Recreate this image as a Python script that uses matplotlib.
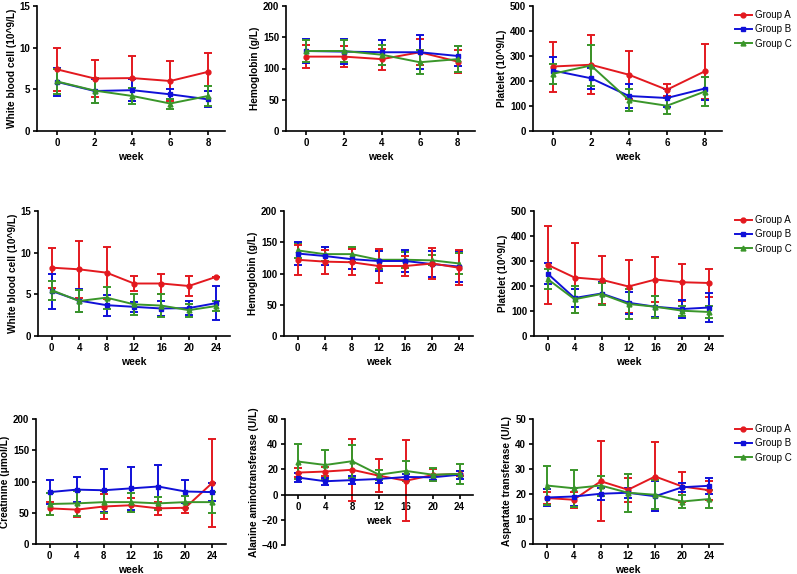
import numpy as np
import matplotlib
matplotlib.use('Agg')
import matplotlib.pyplot as plt
from matplotlib.lines import Line2D

plt.rcParams['font.family'] = ['Liberation Sans', 'DejaVu Sans']
plt.rcParams['font.weight'] = 'bold'

# weeks
weeks8 = [0, 2, 4, 6, 8]
weeks24 = [0, 4, 8, 12, 16, 20, 24]
groups = ['Group A', 'Group B', 'Group C']

# row 1 : 8 weeks
wbc8_a = [7.4, 6.3, 6.35, 6.0, 7.1]
wbc8_a_sd = [2.6, 2.2, 2.7, 2.4, 2.3]
wbc8_b = [5.9, 4.8, 4.9, 4.4, 3.8]
wbc8_b_sd = [1.7, 1.4, 1.3, 0.6, 0.95]
wbc8_c = [5.95, 4.85, 4.2, 3.3, 4.2]
wbc8_c_sd = [1.5, 1.5, 1.0, 0.6, 1.2]

hb8_a = [119, 119, 115, 126, 111]
hb8_a_sd = [18, 17, 17, 21, 18]
hb8_b = [128, 127, 126, 126, 120]
hb8_b_sd = [19, 20, 20, 27, 16]
hb8_c = [128, 128, 122, 110, 115]
hb8_c_sd = [17, 17, 16, 19, 21]

plt8_a = [258, 265, 225, 165, 239]
plt8_a_sd = [100, 118, 97, 24, 109]
plt8_b = [242, 211, 140, 132, 170]
plt8_b_sd = [53, 42, 48, 36, 46]
plt8_c = [229, 262, 124, 101, 158]
plt8_c_sd = [40, 82, 45, 33, 58]

# row 2 : 24 weeks
wbc24_a = [8.2, 8.0, 7.6, 6.3, 6.3, 6.0, 7.1]
wbc24_a_sd = [2.4, 3.4, 3.1, 0.9, 1.2, 1.2, 0]
wbc24_b = [5.4, 4.25, 3.7, 3.5, 3.3, 3.35, 3.95]
wbc24_b_sd = [2.1, 1.4, 1.25, 0.6, 0.9, 0.85, 2.05]
wbc24_c = [5.5, 4.2, 4.6, 3.8, 3.65, 3.1, 3.6]
wbc24_c_sd = [1.15, 1.3, 1.3, 1.25, 1.35, 0.8, 0.55]

hb24_a = [122, 119, 118, 112, 112, 116, 109]
hb24_a_sd = [24, 19, 21, 27, 16, 25, 28]
hb24_b = [132, 128, 123, 120, 120, 115, 111]
hb24_b_sd = [18, 14, 16, 16, 17, 21, 25]
hb24_c = [137, 131, 131, 122, 122, 121, 116]
hb24_c_sd = [12, 11, 12, 14, 13, 8, 17]

plt24_a = [285, 234, 225, 198, 226, 215, 212]
plt24_a_sd = [155, 140, 95, 106, 90, 73, 56]
plt24_b = [250, 152, 170, 133, 117, 108, 114]
plt24_b_sd = [43, 36, 47, 43, 42, 37, 58]
plt24_c = [228, 147, 168, 128, 117, 101, 96]
plt24_c_sd = [40, 53, 45, 60, 43, 19, 24]

# row 3 : kidney / liver
cr_a = [57, 55, 60, 62, 57, 58, 98]
cr_a_sd = [10, 11, 20, 11, 10, 8, 70]
cr_b = [83, 87, 86, 89, 92, 84, 83]
cr_b_sd = [19, 20, 34, 34, 35, 19, 14]
cr_c = [64, 65, 67, 67, 65, 67, 67]
cr_c_sd = [17, 20, 18, 15, 11, 10, 17]

alt_a = [17.5, 18.3, 19.7, 15, 11, 15.5, 16.5]
alt_a_sd = [3.3, 3.5, 24.5, 13, 32, 5, 2]
alt_b = [13.5, 10.6, 11.5, 12.4, 14, 13.7, 15.8]
alt_b_sd = [3.8, 2.8, 3.4, 3.0, 2.5, 2.0, 3.3]
alt_c = [26.2, 23.5, 26.5, 15.8, 18.8, 15.8, 16.4]
alt_c_sd = [14, 12, 13, 4, 8, 5, 7.8]

ast_a = [18.4, 17.7, 25.1, 21.7, 27.0, 23.0, 21.5]
ast_a_sd = [2.3, 3.2, 16, 4.8, 13.8, 6, 3.9]
ast_b = [18.6, 19.0, 20.1, 20.5, 19.1, 22.7, 23.3]
ast_b_sd = [3.3, 3.6, 2.3, 2.0, 6.0, 1.8, 3.2]
ast_c = [23.4, 22.3, 23.4, 20.5, 19.7, 17.0, 18.0]
ast_c_sd = [7.8, 7.4, 4.0, 7.7, 5.8, 2.7, 3.5]

colors = ['#e3191f', '#1010d8', '#3a962a']
markers = ['o', 's', '^']

W, H = 797, 574
fig = plt.figure(figsize=(W / 100, H / 100), dpi=100)


def rect(left, right, top, bottom):
    return [left / W, 1 - bottom / H, (right - left) / W, (bottom - top) / H]


def panel(r, weeks, series, ylabel, ylim, yticks, xlim, order=(0, 1, 2)):
    ax = fig.add_axes(rect(*r))
    for i in order:
        mean, sd = series[i]
        ax.errorbar(weeks, mean, yerr=sd, color=colors[i], marker=markers[i],
                    ms=3.5, lw=1.4, elinewidth=1.4, capsize=2.6, capthick=1.4,
                    label=groups[i])
    ax.set_xlim(*xlim)
    ax.set_ylim(*ylim)
    ax.set_xticks(weeks)
    ax.set_yticks(yticks)
    for s in ['top', 'right']:
        ax.spines[s].set_visible(False)
    for s in ['left', 'bottom']:
        ax.spines[s].set_linewidth(1.2)
    ax.tick_params(width=1.2, length=3, labelsize=7, pad=2)
    ax.set_ylabel(ylabel, fontsize=7.3, fontweight='bold', labelpad=2)
    ax.set_xlabel('week', fontsize=7.5, fontweight='bold', labelpad=3)
    return ax


def legend(ax, y):
    handles = [Line2D([], [], color=colors[i], marker=markers[i], ms=3.5, lw=1.4)
               for i in range(3)]
    ax.legend(handles, groups, loc='upper left', bbox_to_anchor=(735 / W, 1 - y / H),
              bbox_transform=fig.transFigure, frameon=False, handlelength=1.7,
              handletextpad=0.4, labelspacing=0.45, borderpad=0, borderaxespad=0,
              prop={'size': 7, 'weight': 'normal'})


xl8 = (-1.05, 8.9)
xl24 = (-2, 26)

panel((37, 225, 6, 131), weeks8, [(wbc8_a, wbc8_a_sd), (wbc8_b, wbc8_b_sd), (wbc8_c, wbc8_c_sd)],
      'White blood cell (10^9/L)', (0, 15), [0, 5, 10, 15], xl8)
panel((286, 475, 6, 131), weeks8, [(hb8_a, hb8_a_sd), (hb8_b, hb8_b_sd), (hb8_c, hb8_c_sd)],
      'Hemoglobin (g/L)', (0, 200), [0, 50, 100, 150, 200], xl8)
ax = panel((533, 722, 6, 131), weeks8, [(plt8_a, plt8_a_sd), (plt8_b, plt8_b_sd), (plt8_c, plt8_c_sd)],
           'Platelet (10^9/L)', (0, 500), [0, 100, 200, 300, 400, 500], xl8)
legend(ax, 10)

panel((38, 230, 211, 336), weeks24, [(wbc24_a, wbc24_a_sd), (wbc24_b, wbc24_b_sd), (wbc24_c, wbc24_c_sd)],
      'White blood cell (10^9/L)', (0, 15), [0, 5, 10, 15], xl24)
panel((284, 473, 211, 336), weeks24, [(hb24_a, hb24_a_sd), (hb24_b, hb24_b_sd), (hb24_c, hb24_c_sd)],
      'Hemoglobin (g/L)', (0, 200), [0, 50, 100, 150, 200], xl24, order=(2, 1, 0))
ax = panel((534, 723, 211, 336), weeks24, [(plt24_a, plt24_a_sd), (plt24_b, plt24_b_sd), (plt24_c, plt24_c_sd)],
           'Platelet (10^9/L)', (0, 500), [0, 100, 200, 300, 400, 500], xl24)
legend(ax, 215)

panel((36, 226, 419, 544), weeks24, [(cr_a, cr_a_sd), (cr_b, cr_b_sd), (cr_c, cr_c_sd)],
      'Creatinine (μmol/L)', (0, 200), [0, 50, 100, 150, 200], xl24)
ax = panel((285, 473, 419, 545), weeks24, [(alt_a, alt_a_sd), (alt_b, alt_b_sd), (alt_c, alt_c_sd)],
           'Alanine aminotransferase (U/L)', (-40, 60), [-40, -20, 0, 20, 40, 60], xl24)
ax.spines['bottom'].set_position(('data', 0))
ax = panel((533, 723, 419, 544), weeks24, [(ast_a, ast_a_sd), (ast_b, ast_b_sd), (ast_c, ast_c_sd)],
           'Aspartate transferase (U/L)', (0, 50), [0, 10, 20, 30, 40, 50], xl24)
legend(ax, 424)

fig.savefig('out.png', dpi=100)
